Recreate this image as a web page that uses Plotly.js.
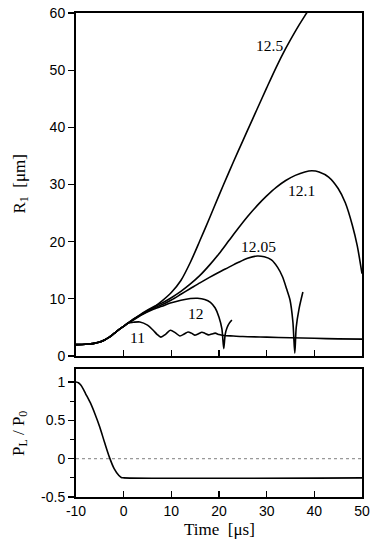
<!DOCTYPE html>
<html>
<head>
<meta charset="utf-8">
<script src="https://cdn.plot.ly/plotly-3.0.1.min.js"></script>
<style>html,body{margin:0;padding:0;background:#fff;}#chart{width:392px;height:556px;}</style>
</head>
<body>
<div id="chart"></div>
<script>
// ---- data ----
// common early part (all drive levels identical before ~1 µs)
const tCommon = [-10, -8, -7, -6, -5, -4, -3, -2, -1, 0, 1];
const rCommon = [2.0, 2.05, 2.12, 2.25, 2.45, 2.8, 3.3, 3.95, 4.6, 5.2, 5.8];

// curve "11"
const t11 = [2, 3.4, 5, 6.2, 7, 7.8, 8.8, 9.8, 10.8, 11.8, 12.7, 13.5, 14.2, 14.9, 15.7, 16.4, 17.1, 17.8, 18.5, 19.2, 20, 21, 23, 25, 30, 35, 40, 45, 50];
const r11 = [5.9, 5.95, 5.4, 4.5, 3.8, 3.3, 3.8, 4.5, 4.1, 3.5, 3.85, 4.2, 4.0, 3.65, 3.9, 4.15, 3.95, 3.7, 3.85, 4.0, 3.75, 3.6, 3.5, 3.4, 3.3, 3.2, 3.1, 3.0, 2.95];

// curve "12"
const t12 = [2, 4, 6, 8, 10, 12, 14, 15.5, 17, 18.2, 19.2, 20, 20.6, 21.0, 21.3, 21.7, 22.2, 22.7];
const r12 = [6.3, 7.3, 8.1, 8.7, 9.3, 9.75, 10.05, 10.1, 9.9, 9.4, 8.4, 6.8, 4.8, 1.3, 3.8, 5.0, 5.8, 6.3];

// curve "12.05"
const t1205 = [2, 4, 6, 8, 10, 12, 14, 16, 18, 20, 22, 24, 26, 28, 29.5, 31, 32.3, 33.3, 34.2, 34.9, 35.5, 35.9, 36.2, 36.8, 37.6];
const r1205 = [6.35, 7.45, 8.3, 8.95, 9.8, 10.8, 11.8, 12.8, 13.75, 14.65, 15.5, 16.35, 17.1, 17.5, 17.35, 16.8, 15.5, 13.9, 11.7, 9.8, 6.0, 0.5, 5.0, 8.3, 11.2];

// curve "12.1"
const t121 = [2, 4, 6, 8, 10, 12, 14, 16, 18, 20, 22, 24, 26, 28, 30, 32, 34, 36, 38, 39.5, 41, 43, 45, 46.5, 48, 49, 50];
const r121 = [6.4, 7.55, 8.5, 9.25, 10.2, 11.3, 12.6, 14.1, 15.9, 17.9, 20.1, 22.3, 24.4, 26.3, 28.0, 29.5, 30.7, 31.6, 32.2, 32.4, 32.2, 31.3, 29.3, 26.8, 22.8, 19.3, 14.4];

// curve "12.5"
const t125 = [2, 3.5, 5, 6.5, 8, 10, 12, 14, 16, 18, 20, 22, 24, 26, 28, 30, 32, 34, 36, 38, 40];
const r125 = [6.45, 7.1, 7.8, 8.65, 9.6, 11.1, 13.2, 16.4, 20.2, 24.1, 28.1, 32.0, 35.8, 39.5, 43.2, 46.9, 50.5, 53.8, 56.8, 59.5, 62.0];

// lower panel: P_L / P_0
const tP = [-10, -9.5, -9, -8.5, -8, -7, -6, -5, -4, -3, -2, -1, -0.5, 0, 50];
const pP = [1.0, 0.99, 0.96, 0.91, 0.85, 0.73, 0.58, 0.41, 0.21, 0.02, -0.13, -0.22, -0.245, -0.25, -0.25];
const zeroT = [-10, 50];
const zeroP = [0, 0];

// labels
const curveLabels = ['12.5', '12.1', '12.05', '12', '11'];
const labelT = [30.6, 37.4, 28.3, 15.2, 3.0];
const labelR = [54.3, 29.0, 19.2, 7.5, 3.2];

const xTicksTop = [0, 10, 20, 30, 40];
const xTicksBottom = [-10, 0, 10, 20, 30, 40, 50];
const xTickTextBottom = ['-10', '0', '10', '20', '30', '40', '50'];
const yTicksTop = [0, 10, 20, 30, 40, 50, 60];
const yTicksBottom = [-0.5, 0, 0.5, 1];
const yTickTextBottom = ['-0.5', '0', '0.5', '1'];

// ---- build ----
const lineStyle = {color: '#000', width: 1.6, shape: 'spline', smoothing: 0.8};
function curve(t, r) {
  return {x: tCommon.concat(t), y: rCommon.concat(r), xaxis: 'x', yaxis: 'y',
          mode: 'lines', line: lineStyle, hoverinfo: 'skip'};
}
const data = [
  curve(t11, r11), curve(t12, r12), curve(t1205, r1205), curve(t121, r121), curve(t125, r125),
  {x: zeroT, y: zeroP, xaxis: 'x2', yaxis: 'y2', mode: 'lines',
   line: {color: '#999', width: 1.2, dash: 'dot'}, hoverinfo: 'skip'},
  {x: tP, y: pP, xaxis: 'x2', yaxis: 'y2', mode: 'lines',
   line: lineStyle, hoverinfo: 'skip'}
];

const serif = "'Liberation Serif', 'Times New Roman', serif";
const sans = "'Liberation Sans', Arial, sans-serif";
const annotations = curveLabels.map((s, i) => ({
  text: s, x: labelT[i], y: labelR[i], xref: 'x', yref: 'y',
  showarrow: false, font: {family: serif, size: 15.5, color: '#000'},
  xanchor: 'center', yanchor: 'middle'
}));
annotations.push({
  text: 'R<sub>1</sub>\u00a0\u00a0[\u03bcm]', xref: 'paper', yref: 'paper',
  x: -0.192, y: 0.6457, textangle: -90, showarrow: false,
  xanchor: 'center', yanchor: 'middle', font: {family: serif, size: 17, color: '#000'}
});
annotations.push({
  text: 'P<sub>L</sub> / P<sub>0</sub>', xref: 'paper', yref: 'paper',
  x: -0.196, y: 0.132, textangle: -90, showarrow: false,
  xanchor: 'center', yanchor: 'middle', font: {family: serif, size: 17, color: '#000'}
});
annotations.push({
  text: 'Time\u00a0\u00a0[\u03bcs]', xref: 'paper', yref: 'paper',
  x: 0.5, y: -0.068, showarrow: false,
  xanchor: 'center', yanchor: 'middle', font: {family: serif, size: 17, color: '#000'}
});

const axCommon = {showline: true, mirror: true, linecolor: '#000', linewidth: 2,
                  showgrid: false, zeroline: false, tickcolor: '#000', tickwidth: 1.2,
                  tickfont: {family: sans, size: 14, color: '#000'}, fixedrange: true};

const layout = {
  width: 392, height: 556,
  margin: {l: 76, r: 30, t: 13, b: 59},
  paper_bgcolor: '#fff', plot_bgcolor: '#fff',
  showlegend: false,
  font: {family: sans, size: 14, color: '#000'},
  xaxis: Object.assign({}, axCommon, {domain: [0, 1], range: [-10, 50], anchor: 'y',
    tickmode: 'array', tickvals: xTicksTop, ticks: 'inside', ticklen: 6, showticklabels: false}),
  yaxis: Object.assign({}, axCommon, {domain: [0.2913, 1], range: [0, 60], anchor: 'x',
    tickmode: 'array', tickvals: yTicksTop, ticks: 'outside', ticklen: 6}),
  xaxis2: Object.assign({}, axCommon, {domain: [0, 1], range: [-10, 50], anchor: 'y2',
    tickmode: 'array', tickvals: xTicksBottom, ticktext: xTickTextBottom, ticks: 'inside', ticklen: 6}),
  yaxis2: Object.assign({}, axCommon, {domain: [0, 0.2645], range: [-0.5, 1.17], anchor: 'x2',
    tickmode: 'array', tickvals: yTicksBottom, ticktext: yTickTextBottom, ticks: 'outside', ticklen: 6,
    minor: {tickmode: 'linear', tick0: 0.25, dtick: 0.5, ticks: 'outside', ticklen: 4, tickcolor: '#000', tickwidth: 1.2}}),
  annotations: annotations
};

Plotly.newPlot('chart', data, layout, {staticPlot: true, displayModeBar: false});
</script>
</body>
</html>
